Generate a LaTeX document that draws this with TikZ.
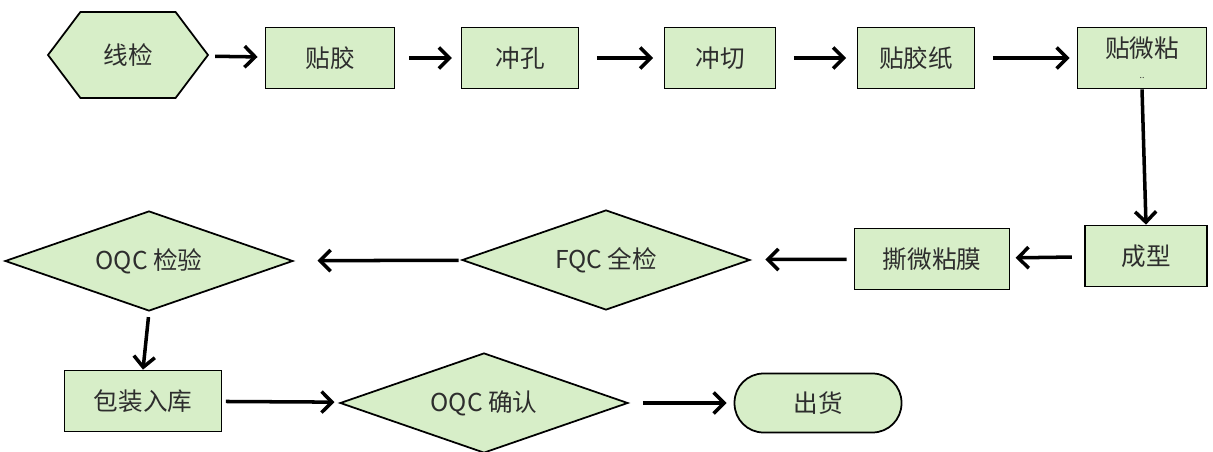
\documentclass[tikz,border=0pt]{standalone}
\usepackage{fontspec}
\setmainfont{Noto Sans CJK SC}
\usetikzlibrary{shapes.geometric,shapes.symbols,arrows.meta}
\definecolor{boxgreen}{RGB}{215,238,200}
\definecolor{txtgray}{RGB}{45,45,45}
\tikzset{
  stepbox/.style={draw,line width=1pt,fill=boxgreen,text=txtgray,minimum width=2.5cm,minimum height=1.22cm,font=\fontsize{14}{16}\selectfont},
  checkbox/.style={diamond,draw,line width=1pt,fill=boxgreen,text=txtgray,inner sep=0pt,shape aspect=2.88,minimum width=5.76cm,minimum height=2cm,font=\fontsize{14}{16}\selectfont},
  flow/.style={line width=2pt,-{Straight Barb[length=6pt,width=12pt]},shorten <=4pt,shorten >=4pt}
}
\begin{document}
\begin{tikzpicture}[x=0.02cm,y=-0.02cm]
\useasboundingbox (0,0) rectangle (1213,452);
% first row
\node[signal,signal to=east and west,signal pointer angle=106,draw,line width=1pt,fill=boxgreen,text=txtgray,minimum width=3.2cm,minimum height=1.72cm,inner sep=0pt,font=\fontsize{14}{16}\selectfont] (xj) at (128,55) {线检};
\node[stepbox,minimum width=2.58cm] (tj) at (330,58) {贴胶};
\node[stepbox,minimum width=2.34cm] (ck) at (520,58) {冲孔};
\node[stepbox,minimum width=2.22cm] (cq) at (720,58) {冲切};
\node[stepbox,minimum width=2.34cm] (tjz) at (916,58) {贴胶纸};
\node[stepbox,minimum width=2.58cm,align=center] (twn) at (1142,58) {贴微粘\\[-4pt]{\tiny ..}};
% second row
\node[stepbox,minimum width=2.44cm] (cx) at (1146,256) {成型};
\node[stepbox,minimum width=3.1cm] (swm) at (932,259) {撕微粘膜};
\node[checkbox] (fqc) at (606,260) {FQC 全检};
\node[checkbox] (oqc) at (149,261) {OQC 检验};
% third row
\node[stepbox,minimum width=3.14cm] (bz) at (143,401) {包装入库};
\node[checkbox] (qr) at (484,403) {OQC 确认};
\node[draw,line width=1pt,fill=boxgreen,text=txtgray,rounded corners=0.58cm,minimum width=3.34cm,minimum height=1.18cm,font=\fontsize{14}{16}\selectfont] (ch) at (818,403) {出货};
% arrows
\draw[flow] (xj) -- (tj);
\draw[flow,shorten <=8pt,shorten >=5pt] (tj) -- (ck);
\draw[flow,shorten <=10pt,shorten >=6pt] (ck) -- (cq);
\draw[flow,shorten <=10pt,shorten >=6pt] (cq) -- (tjz);
\draw[flow,shorten <=10pt,shorten >=4pt] (tjz) -- (twn);
\draw[flow,shorten <=0pt,shorten >=0pt] (twn.south) -- (cx.north);
\draw[flow,shorten <=7pt,shorten >=3pt] (cx) -- (swm);
\draw[flow,shorten <=4pt,shorten >=9pt] (swm) -- (fqc);
\draw[flow,shorten <=2pt,shorten >=14pt] (fqc) -- (oqc);
\draw[flow,shorten <=3pt,shorten >=0pt] (oqc.south) -- (bz.north);
\draw[flow,shorten <=2pt,shorten >=4pt] (bz) -- (qr);
\draw[flow,shorten <=8pt,shorten >=4pt] (qr) -- (ch);
\end{tikzpicture}
\end{document}
